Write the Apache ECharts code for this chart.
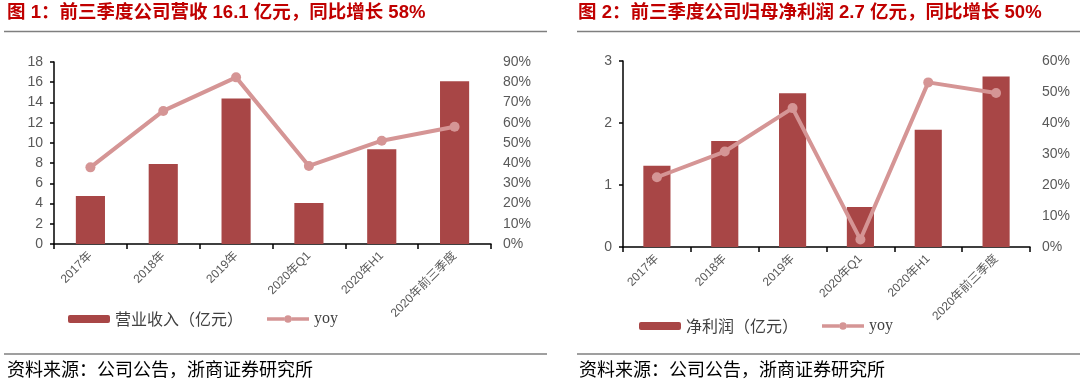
<!DOCTYPE html>
<html>
<head>
<meta charset="utf-8">
<script src="https://cdn.jsdelivr.net/npm/echarts@6/dist/echarts.min.js"></script>
<style>
html,body{margin:0;padding:0;background:#fff;}
#c{width:1080px;height:390px;}
</style>
</head>
<body>
<div id="c"></div>
<script>
const categories = ['2017年', '2018年', '2019年', '2020年Q1', '2020年H1', '2020年前三季度'];
const revenue = [4.75, 7.9, 14.4, 4.06, 9.37, 16.1];
const revenueYoy = [37.9, 65.8, 82.4, 38.6, 51.1, 58.0];
const profit = [1.31, 1.71, 2.48, 0.645, 1.89, 2.75];
const profitYoy = [22.5, 30.8, 44.8, 2.4, 53.1, 49.7];
const title1 = '图 1：前三季度公司营收 16.1 亿元，同比增长 58%';
const title2 = '图 2：前三季度公司归母净利润 2.7 亿元，同比增长 50%';
const source = '资料来源：公司公告，浙商证券研究所';
const barName1 = '营业收入（亿元）';
const barName2 = '净利润（亿元）';
const lineName = 'yoy';

const BAR = '#a84646';
const LINE = '#d59595';
const LABEL = '#595959';
const FONT = '"Liberation Sans", Arial, "Noto Sans CJK SC", sans-serif';
const CJK = '"Noto Sans CJK SC", sans-serif';
const LINE_ICON = 'path://M0,2.2 L18.5,2.2 L18.5,5.8 L0,5.8 Z M26.5,2.2 L45,2.2 L45,5.8 L26.5,5.8 Z M18.5,4 A4,4 0 1,1 26.5,4 A4,4 0 1,1 18.5,4 Z';

const chart = echarts.init(document.getElementById('c'), null, {renderer: 'canvas'});

function xAxis(gi) {
  return {
    type: 'category', gridIndex: gi, data: categories,
    axisLine: {lineStyle: {color: '#000', width: 1.5}},
    axisTick: {show: true, length: 5, lineStyle: {color: '#000', width: 1.5}},
    axisLabel: {rotate: 45, color: LABEL, fontSize: 12, fontFamily: FONT, margin: 10, interval: 0}
  };
}
function leftY(gi, max, interval) {
  return {
    type: 'value', gridIndex: gi, min: 0, max: max, interval: interval,
    axisLine: {show: true, lineStyle: {color: '#000', width: 1.5}},
    axisTick: {show: true, length: 4, lineStyle: {color: '#000', width: 1.5}},
    splitLine: {show: false},
    axisLabel: {color: LABEL, fontSize: 14, fontFamily: FONT, margin: 11}
  };
}
function rightY(gi, max, interval) {
  return {
    type: 'value', gridIndex: gi, min: 0, max: max, interval: interval, position: 'right',
    axisLine: {show: false}, axisTick: {show: false}, splitLine: {show: false},
    axisLabel: {color: LABEL, fontSize: 14, fontFamily: FONT, margin: 12, formatter: '{value}%'}
  };
}
function legend(left, top, barName) {
  return {
    left: left, top: top, itemWidth: 42, itemHeight: 8, itemGap: 24,
    data: [
      {name: barName, textStyle: {fontFamily: CJK, fontSize: 16, color: '#404040'}},
      {name: lineName, icon: LINE_ICON, itemStyle: {color: LINE},
       textStyle: {fontFamily: '"Liberation Serif", "DejaVu Serif", serif', fontSize: 16, color: '#404040'}}
    ],
    textStyle: {fontSize: 16, color: '#404040'}
  };
}
function barSeries(name, xi, yi, data) {
  return {name: name, type: 'bar', xAxisIndex: xi, yAxisIndex: yi, data: data, barWidth: '40%',
    itemStyle: {color: BAR}};
}
function lineSeries(xi, yi, data) {
  return {name: lineName, type: 'line', xAxisIndex: xi, yAxisIndex: yi, data: data,
    symbol: 'circle', symbolSize: 10, lineStyle: {color: LINE, width: 4}, itemStyle: {color: LINE}, z: 5};
}
function hline(x1, x2, y) {
  return {type: 'line', shape: {x1: x1, y1: y, x2: x2, y2: y}, style: {stroke: '#7f7f7f', lineWidth: 1.5}};
}
function text(x, y, t, style) {
  return {type: 'text', left: x, top: y, style: Object.assign({text: t}, style)};
}
const titleStyle = {fill: '#c00000', font: 'bold 18.5px ' + FONT};
const srcStyle = {fill: '#000', font: '18px ' + CJK};

chart.setOption({
  animation: false,
  grid: [
    {left: 54, top: 62, width: 437, height: 182},
    {left: 623, top: 61, width: 407, height: 186}
  ],
  xAxis: [xAxis(0), xAxis(1)],
  yAxis: [leftY(0, 18, 2), rightY(0, 90, 10), leftY(1, 3, 1), rightY(1, 60, 10)],
  legend: [legend(63, 306, barName1), legend(634, 313, barName2)],
  series: [
    barSeries(barName1, 0, 0, revenue),
    lineSeries(0, 1, revenueYoy),
    barSeries(barName2, 1, 2, profit),
    lineSeries(1, 3, profitYoy)
  ],
  graphic: [
    text(7, 4, title1, titleStyle),
    text(578, 4, title2, titleStyle),
    hline(4, 547, 31.5),
    hline(577, 1080, 31.5),
    hline(4, 547, 354),
    hline(577, 1080, 354),
    text(7, 360, source, srcStyle),
    text(579, 360, source, srcStyle)
  ]
});
</script>
</body>
</html>
